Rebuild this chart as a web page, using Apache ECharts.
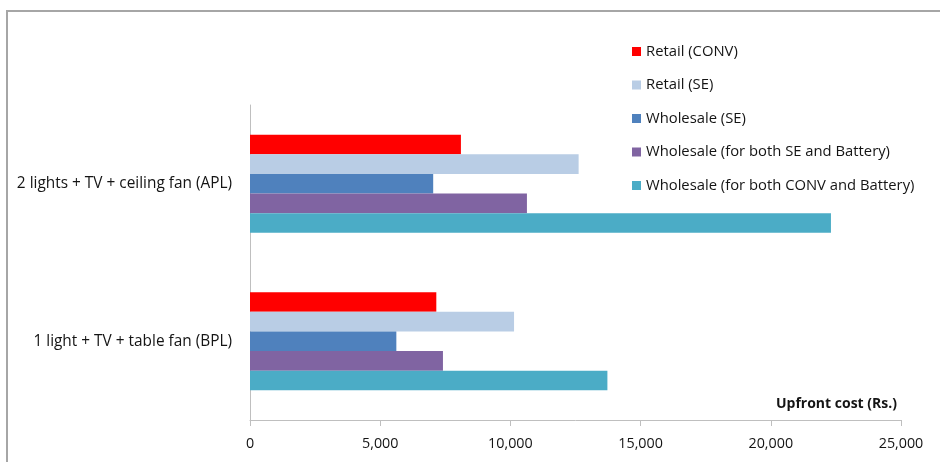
<!DOCTYPE html>
<html>
<head>
<meta charset="utf-8">
<script src="https://cdn.jsdelivr.net/npm/echarts@6/dist/echarts.min.js"></script>
<style>
html,body{margin:0;padding:0;background:#fff;}
#c{width:940px;height:462px;}
</style>
</head>
<body>
<div id="c"></div>
<script>
var categories = ['2 lights + TV + ceiling fan (APL)', '1 light + TV + table fan (BPL)'];
var seriesNames = ['Retail (CONV)', 'Retail (SE)', 'Wholesale (SE)', 'Wholesale (for both SE and Battery)', 'Wholesale (for both CONV and Battery)'];
var retailConv = [8100, 7155];
var retailSE = [12620, 10140];
var wholesaleSE = [7035, 5620];
var wholesaleSEBattery = [10635, 7410];
var wholesaleConvBattery = [22310, 13725];
var xTicks = [0, 5000, 10000, 15000, 20000, 25000];
var axisTitle = 'Upfront cost (Rs.)';

var colors = ['#FF0000', '#B9CDE5', '#4F81BD', '#8064A2', '#4BACC6'];
var values = [retailConv, retailSE, wholesaleSE, wholesaleSEBattery, wholesaleConvBattery];
var FONT = 'Open Sans';
var TXT = '#141414';

var chart = echarts.init(document.getElementById('c'));
chart.setOption({
  animation: false,
  textStyle: {fontFamily: FONT},
  grid: {left: 250, right: 39, top: 105, bottom: 42, containLabel: false},
  legend: {
    orient: 'vertical', left: 627, top: 39,
    itemWidth: 9, itemHeight: 9, itemGap: 18.5, itemTextGap: 5,
    icon: 'rect',
    textStyle: {fontFamily: FONT, fontSize: 14.8, color: TXT},
    data: seriesNames
  },
  xAxis: {
    type: 'value', min: xTicks[0], max: xTicks[xTicks.length-1], interval: 5000,
    axisLine: {show: true, lineStyle: {color: '#BFBFBF', width: 1}},
    axisTick: {show: true, length: 6, lineStyle: {color: '#BFBFBF'}},
    splitLine: {show: false},
    axisLabel: {fontFamily: FONT, fontSize: 14.3, color: TXT, margin: 17,
      formatter: function(v){ return v.toLocaleString('en-US'); }}
  },
  yAxis: {
    type: 'category', data: categories, inverse: true,
    axisLine: {show: true, lineStyle: {color: '#BFBFBF', width: 1}},
    axisTick: {show: false},
    axisLabel: {fontFamily: FONT, fontSize: 15.4, color: TXT, margin: 18}
  },
  graphic: [
    {type: 'rect', shape: {x: 7, y: 11, width: 1000, height: 1000}, style: {fill: 'none', stroke: '#A6A6A6', lineWidth: 2}, silent: true},
    {type: 'text', right: 43, top: 397, style: {text: axisTitle, fontFamily: FONT, fontSize: 14, fontWeight: 'bold', fill: TXT}}
  ],
  series: seriesNames.map(function(n, i){
    return {name: n, type: 'bar', data: values[i], barWidth: 19.6, barGap: '0%',
      itemStyle: {color: colors[i]}};
  })
});
</script>
</body>
</html>
